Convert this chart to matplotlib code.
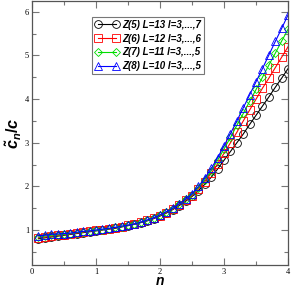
import matplotlib
matplotlib.use("Agg")
import matplotlib.pyplot as plt
from matplotlib.ticker import MultipleLocator

n = [round(0.1 * i, 1) for i in range(1, 41)]

z5 = [0.80, 0.82, 0.84, 0.86, 0.88, 0.90, 0.92, 0.94, 0.96, 0.98,
      1.00, 1.02, 1.04, 1.07, 1.10, 1.13, 1.17, 1.21, 1.26, 1.32,
      1.39, 1.47, 1.56, 1.66, 1.77, 1.90, 2.05, 2.21, 2.40, 2.60,
      2.80, 3.00, 3.20, 3.42, 3.63, 3.84, 4.05, 4.27, 4.48, 4.70]
z6 = [0.82, 0.84, 0.86, 0.88, 0.89, 0.91, 0.93, 0.95, 0.97, 0.99,
      1.01, 1.03, 1.05, 1.08, 1.11, 1.14, 1.18, 1.22, 1.27, 1.33,
      1.40, 1.48, 1.58, 1.68, 1.79, 1.94, 2.11, 2.30, 2.52, 2.76,
      3.00, 3.24, 3.50, 3.75, 4.00, 4.25, 4.48, 4.72, 4.96, 5.20]
z7 = [0.84, 0.86, 0.88, 0.89, 0.90, 0.92, 0.94, 0.96, 0.98, 0.99,
      1.01, 1.03, 1.06, 1.08, 1.11, 1.14, 1.18, 1.22, 1.28, 1.34,
      1.41, 1.49, 1.59, 1.70, 1.81, 1.97, 2.15, 2.36, 2.60, 2.86,
      3.12, 3.40, 3.67, 3.95, 4.22, 4.50, 4.78, 5.05, 5.33, 5.60]
z8 = [0.87, 0.88, 0.90, 0.91, 0.92, 0.93, 0.95, 0.97, 0.98, 1.00,
      1.02, 1.04, 1.06, 1.09, 1.11, 1.14, 1.18, 1.23, 1.28, 1.35,
      1.42, 1.50, 1.60, 1.71, 1.83, 2.00, 2.19, 2.41, 2.66, 2.93,
      3.21, 3.50, 3.80, 4.10, 4.40, 4.70, 5.01, 5.32, 5.62, 5.93]

series = [
    (z5, "Z(5) L=13 l=3,...,7", "black", "o"),
    (z6, "Z(6) L=12 l=3,...,6", "red", "s"),
    (z7, "Z(7) L=11 l=3,...,5", "#00dd00", "D"),
    (z8, "Z(8) L=10 l=3,...,5", "blue", "^"),
]

plt.rcParams['mathtext.fontset'] = 'custom'
plt.rcParams['mathtext.it'] = 'Liberation Sans:italic:bold'
plt.rcParams['mathtext.rm'] = 'Liberation Sans:bold'

fig = plt.figure(figsize=(2.91, 2.88), dpi=100)
ax = fig.add_axes([0.11, 0.08, 0.88, 0.917])

for vals, lab, col, mk in series:
    ms = 5.6 if mk != "D" else 4.4
    ax.plot(n, vals, color=col, lw=0.8, marker=mk, ms=ms, mfc='none',
            mec=col, mew=0.6, label=lab)

ax.set_xlim(0, 4)
ax.set_ylim(0.2, 6.25)
ax.xaxis.set_major_locator(MultipleLocator(1))
ax.xaxis.set_minor_locator(MultipleLocator(0.5))
ax.yaxis.set_major_locator(MultipleLocator(1))
ax.yaxis.set_minor_locator(MultipleLocator(0.5))
ax.tick_params(which='both', direction='in', top=True, right=True,
               color='#777777', width=0.8)
ax.tick_params(which='major', length=5, labelsize=6, pad=2)
ax.tick_params(which='minor', length=3)
for lbl in ax.get_xticklabels() + ax.get_yticklabels():
    lbl.set_fontfamily('Liberation Serif')
for sp in ax.spines.values():
    sp.set_color('#555555')
    sp.set_linewidth(0.9)

ax.set_xlabel(r'$n$', fontsize=10, labelpad=-1)
ax.set_ylabel(r'$\tilde{c}_n/c$', fontsize=11.5, labelpad=1)

leg = ax.legend(loc='upper left', bbox_to_anchor=(0.234, 0.94), numpoints=2,
                prop={'family': 'Liberation Sans', 'weight': 'bold',
                      'style': 'italic', 'size': 7},
                frameon=True, fancybox=False, edgecolor='#555555',
                handlelength=2.5, handletextpad=0.3, borderpad=0.3,
                labelspacing=0.4, borderaxespad=0)
leg.get_frame().set_linewidth(0.8)

fig.savefig("out.png", dpi=100)
